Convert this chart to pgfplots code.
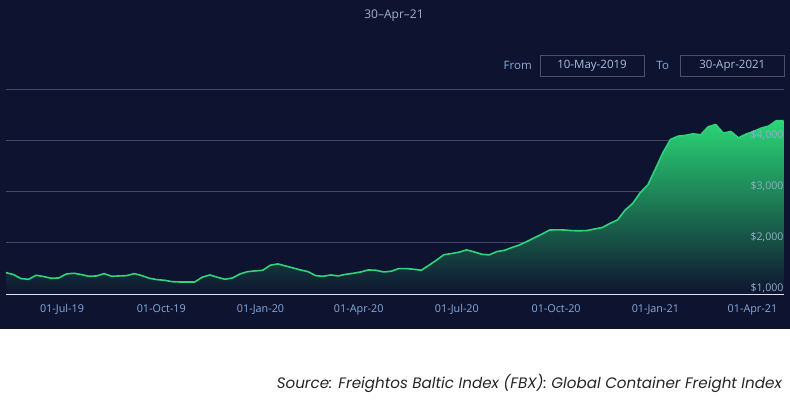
\documentclass[border=0pt]{standalone}
\usepackage{pgfplots}
\usepackage{pgfplotstable}
\usepackage{graphicx}
\pgfplotsset{compat=1.18}
\usepackage{fontspec}
\setmainfont{Open Sans}
\newfontfamily\srcfont{Poppins}
\definecolor{bg}{HTML}{0E142F}
\definecolor{gridc}{HTML}{44486A}
\definecolor{axisc}{HTML}{E2E4EE}
\definecolor{tickc}{HTML}{86ABDF}
\definecolor{ylabc}{HTML}{93AECB}
\definecolor{titlec}{HTML}{A0B0CC}
\definecolor{boxc}{HTML}{4A5070}
\definecolor{boxtext}{HTML}{A8C0E0}
\definecolor{linec}{HTML}{2ED47A}
\definecolor{filltop}{HTML}{2AD676}
\definecolor{fillmid}{HTML}{145A40}
\definecolor{srcc}{HTML}{262626}
\tikzset{ylab/.style={anchor=base east, inner sep=0pt, text=ylabc, font=\fontsize{10.6}{12}\selectfont, yshift=2.2pt}}

\pgfplotstableread{
day value
0 1418
7 1379
14 1300
21 1288
28 1366
35 1340
42 1307
49 1314
56 1392
63 1405
70 1379
77 1346
84 1353
91 1398
98 1346
105 1353
112 1359
119 1398
126 1359
133 1307
140 1281
147 1268
154 1241
161 1235
168 1235
175 1235
182 1330
189 1372
196 1327
203 1288
210 1314
217 1392
224 1437
231 1451
238 1464
245 1562
252 1588
259 1549
266 1510
273 1470
280 1437
287 1359
294 1346
301 1372
308 1353
315 1385
322 1405
329 1431
336 1470
343 1464
350 1431
357 1444
364 1497
371 1497
378 1484
385 1464
392 1560
399 1660
406 1768
413 1790
420 1817
427 1862
434 1823
441 1777
448 1764
455 1829
462 1853
469 1908
476 1958
483 2026
490 2100
497 2172
504 2250
511 2254
518 2250
525 2238
532 2235
539 2241
546 2272
553 2300
560 2380
567 2448
574 2640
581 2770
588 2980
595 3130
602 3440
609 3760
616 4019
623 4084
630 4100
637 4130
644 4111
651 4267
658 4313
665 4143
672 4176
679 4052
686 4124
693 4176
700 4241
707 4280
714 4385
721 4385
}\fbx

\pgfplotstableread{
day value
0 1000
0 1418
7 1379
14 1300
21 1288
28 1366
35 1340
42 1307
49 1314
56 1392
63 1405
70 1379
77 1346
84 1353
91 1398
98 1346
105 1353
112 1359
119 1398
126 1359
133 1307
140 1281
147 1268
154 1241
161 1235
168 1235
175 1235
182 1330
189 1372
196 1327
203 1288
210 1314
217 1392
224 1437
231 1451
238 1464
245 1562
252 1588
259 1549
266 1510
273 1470
280 1437
287 1359
294 1346
301 1372
308 1353
315 1385
322 1405
329 1431
336 1470
343 1464
350 1431
357 1444
364 1497
371 1497
378 1484
385 1464
392 1560
399 1660
406 1768
413 1790
420 1817
427 1862
434 1823
441 1777
448 1764
455 1829
462 1853
469 1908
476 1958
483 2026
490 2100
497 2172
504 2250
511 2254
518 2250
525 2238
532 2235
539 2241
546 2272
553 2300
560 2380
567 2448
574 2640
581 2770
588 2980
595 3130
602 3440
609 3760
616 4019
623 4084
630 4100
637 4130
644 4111
651 4267
658 4313
665 4143
672 4176
679 4052
686 4124
693 4176
700 4241
707 4280
714 4385
721 4385
721 1000
}\fbxarea

\begin{document}
\begin{tikzpicture}[x=1pt,y=1pt]
\useasboundingbox (0,0) rectangle (790,408);
\fill[white] (0,0) rectangle (790,408);
\fill[bg] (0,79) rectangle (790,408);
% title
\node[text=titlec, font=\fontsize{12}{14}\selectfont] at (394,392) {30--Apr--21};
% range selector
\node[text=tickc, font=\fontsize{11.5}{13}\selectfont] at (517.7,343) {From};
\node[text=tickc, font=\fontsize{11.5}{13}\selectfont] at (662.7,343) {To};
\draw[boxc, line width=0.8pt] (540,331.3) rectangle (644,353);
\draw[boxc, line width=0.8pt] (680,331.3) rectangle (784.7,353);
\node[text=boxtext, font=\fontsize{11.5}{13}\selectfont] at (592,342.2) {10-May-2019};
\node[text=boxtext, font=\fontsize{11.5}{13}\selectfont] at (732.3,342.2) {30-Apr-2021};

\begin{axis}[
  at={(6pt,114pt)}, anchor=south west,
  scale only axis, width=777.7pt, height=204.7pt,
  xmin=0, xmax=721, ymin=1000, ymax=5000,
  clip=true,
  axis lines*=left,
  x axis line style={draw=axisc, line width=0.9pt, -},
  y axis line style={draw=none},
  major tick length=0pt,
  ytick={1000,2000,3000,4000,5000},
  yticklabels={},
  ymajorgrids,
  grid style={draw=gridc, line width=0.8pt},
  xtick={52,144,236,327,418,510,602,692},
  xticklabels={01-Jul-19,01-Oct-19,01-Jan-20,01-Apr-20,01-Jul-20,01-Oct-20,01-Jan-21,01-Apr-21},
  xticklabel style={text=tickc, font=\fontsize{10.8}{12}\selectfont, anchor=base, yshift=-18.5pt},
  axis on top=false,
]
\addplot[draw=none, top color=filltop, middle color=fillmid, bottom color=bg] table[x=day, y=value] {\fbxarea};
\addplot[draw=linec, line width=1.6pt, line join=round, mark=none] table[x=day, y=value] {\fbx};
\end{axis}
\draw[axisc, line width=0.9pt] (6,114) -- (783.7,114);
\node[ylab] at (783.7,114) {\$1,000};
\node[ylab] at (783.7,165.2) {\$2,000};
\node[ylab] at (783.7,216.4) {\$3,000};
\node[ylab] at (783.7,267.5) {\$4,000};
\node[anchor=east, inner sep=0pt, text=srcc] at (782,25) {\resizebox{505pt}{!}{\srcfont\itshape Source: Freightos Baltic Index (FBX): Global Container Freight Index}};
\end{tikzpicture}
\end{document}
